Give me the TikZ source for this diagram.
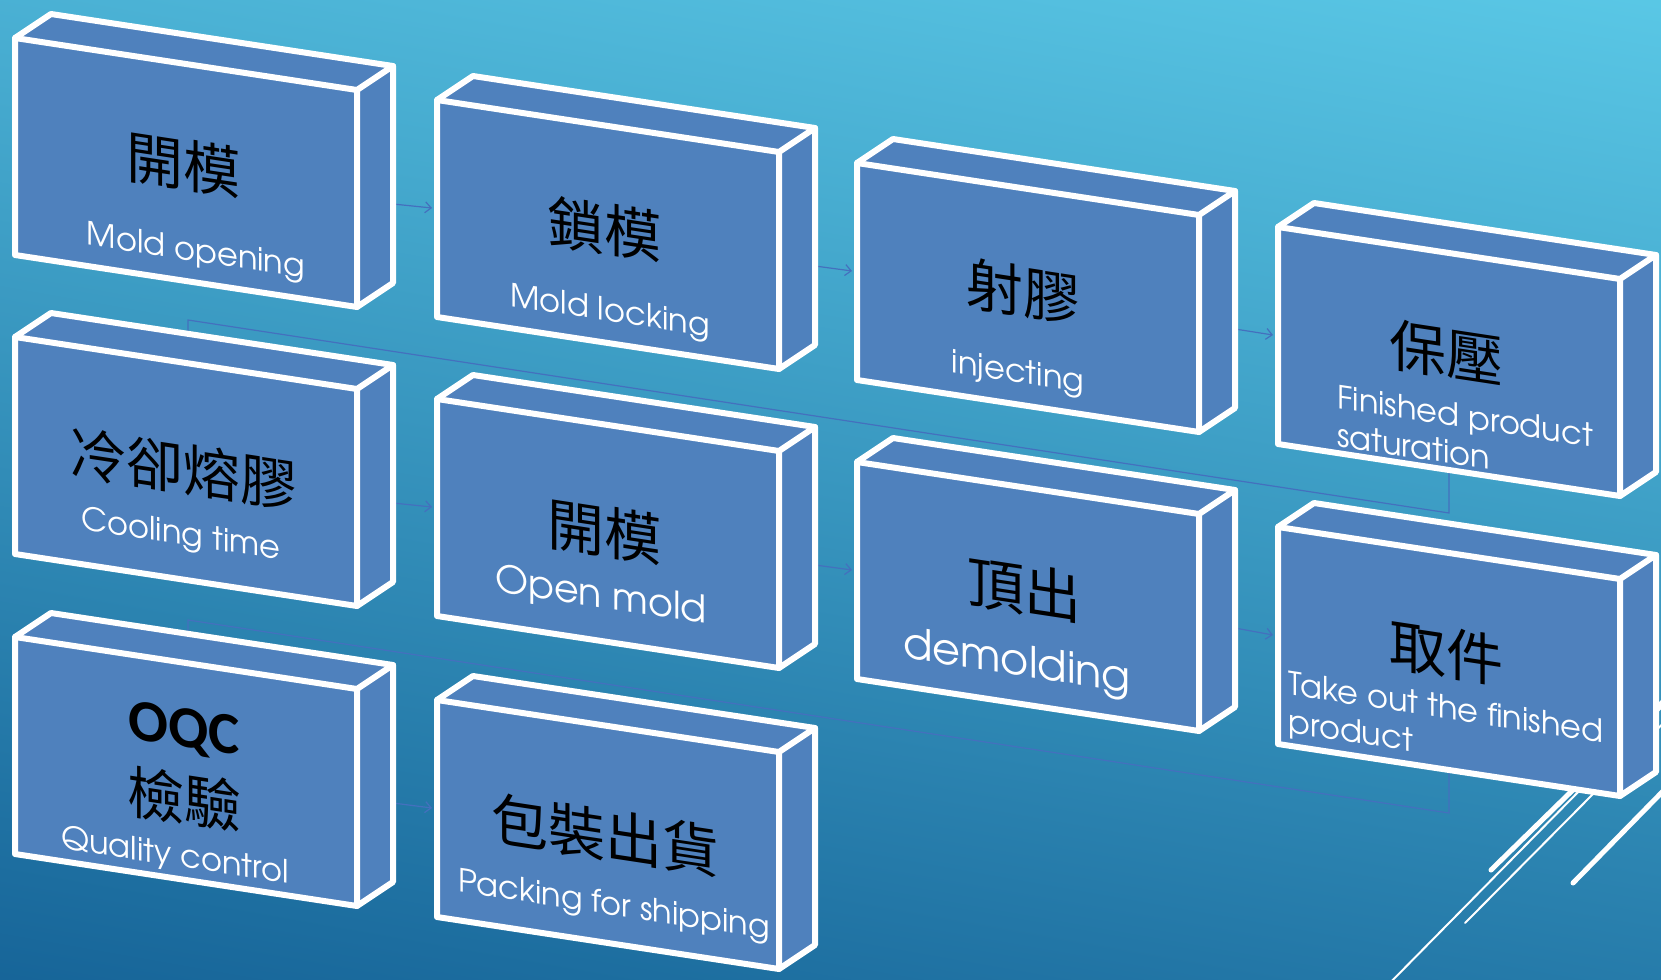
\documentclass[tikz,border=0pt]{standalone}
\usepackage{fontspec}
\newfontfamily\cjk{Noto Sans CJK TC}
\newfontfamily\eng{texgyreadventor-regular.otf}
\newfontfamily\oqcfont{Carlito}
\usetikzlibrary{arrows.meta}
\definecolor{boxblue}{RGB}{79,129,189}
\definecolor{bgtop}{RGB}{90,200,230}
\definecolor{bgbot}{RGB}{22,100,152}
\definecolor{conncol}{RGB}{68,112,190}

\newcommand\defbox[3]{%
  \coordinate (#1-ftl) at (#2,#3);
  \coordinate (#1-ftr) at (#2+342,#3+52);
  \coordinate (#1-fbr) at (#2+342,#3+269);
  \coordinate (#1-fbl) at (#2,#3+217);
  \coordinate (#1-btl) at (#2+36,#3-24);
  \coordinate (#1-btr) at (#2+378,#3+28);
  \coordinate (#1-bbr) at (#2+378,#3+245);
  \coordinate (#1-in)  at (#2-5,#3+108);
  \coordinate (#1-out) at (#2+378,#3+166);
  \coordinate (#1-bot) at (#2+171,#3+246);
  \coordinate (#1-top) at (#2+173,#3-3);
}
\newcommand\drawbox[1]{%
  \fill[boxblue] (#1-ftl) -- (#1-btl) -- (#1-btr) -- (#1-bbr) -- (#1-fbr) -- (#1-fbl) -- cycle;
  \draw[boxedge] (#1-ftl) -- (#1-btl) -- (#1-btr) -- (#1-bbr) -- (#1-fbr) -- (#1-fbl) -- cycle;
  \draw[boxedge] (#1-ftl) -- (#1-ftr) -- (#1-fbr) (#1-ftr) -- (#1-btr);
}

\begin{document}
\begin{tikzpicture}[x=0.5pt,y=-0.5pt,
  boxedge/.style={draw=white,line width=3pt,line join=round,line cap=round},
  conn/.style={draw=conncol,line width=0.6pt},
  arr/.style={conn,-{Straight Barb[length=3pt,width=5.5pt]}},
  deco/.style={draw=white,line cap=round},
  cn/.style={font=\cjk\fontsize{28.5}{32}\selectfont,text=black,inner sep=0pt,yslant=-0.152},
  en/.style={font=\eng\fontsize{16}{19}\selectfont,text=white,inner sep=0pt,yslant=-0.152},
  enbig/.style={en,font=\eng\fontsize{19}{22}\selectfont},
  enhuge/.style={en,font=\eng\fontsize{21.5}{24}\selectfont},
  oqcst/.style={font=\oqcfont\bfseries\fontsize{29.5}{32}\selectfont,text=black,inner sep=0pt,yslant=-0.152}
]
\useasboundingbox (0,0) rectangle (1661,980);
\clip (0,0) rectangle (1661,980);
\shade[top color=bgtop,bottom color=bgbot,shading angle=-10] (-100,-100) rectangle (1761,1080);

% decorative theme lines
\draw[deco,line width=2.5pt] (1491,870) -- (1720,646);
\draw[deco,line width=2.5pt] (1573,883) -- (1720,733);
\draw[deco,line width=1pt] (1465,923) -- (1720,666);
\draw[deco,line width=1pt] (1380,993) -- (1720,648);

% box geometry
\defbox{b1}{15}{38}
\defbox{b2}{437}{100}
\defbox{b3}{857}{163}
\defbox{b4}{1278}{227}
\defbox{b5}{15}{337}
\defbox{b6}{437}{399}
\defbox{b7}{857}{462}
\defbox{b8}{1278}{527}
\defbox{b9}{15}{637}
\defbox{b10}{437}{700}

% connectors
\draw[arr] (b1-out) -- (b2-in);
\draw[arr] (b2-out) -- (b3-in);
\draw[arr] (b3-out) -- (b4-in);
\draw[conn] (b4-bot) -- ++(0,40) -- ([yshift=7pt]b5-top) -- (b5-top);
\draw[arr] (b5-out) -- (b6-in);
\draw[arr] (b6-out) -- (b7-in);
\draw[arr] (b7-out) -- (b8-in);
\draw[conn] (b8-bot) -- ++(0,40) -- ([yshift=7pt]b9-top) -- (b9-top);
\draw[arr] (b9-out) -- (b10-in);

% boxes
\drawbox{b1}
\drawbox{b2}
\drawbox{b3}
\drawbox{b4}
\drawbox{b5}
\drawbox{b6}
\drawbox{b7}
\drawbox{b8}
\drawbox{b9}
\drawbox{b10}

% texts
\node[cn] (t1) at (183,165) {開模};
\node[en] (e1) at (196,253) {Mold opening};
\node[cn] (t2) at (604,229) {鎖模};
\node[en] (e2) at (610,313) {Mold locking};
\node[cn] (t3) at (1023,292) {射膠};
\node[en] (e3) at (1018,374) {injecting};
\node[cn] (t4) at (1446,353) {保壓};
\node[en,align=left] (e4) at (1465,435) {Finished product\\saturation};
\node[cn] (t5) at (183,469) {冷卻熔膠};
\node[en] (e5) at (181,536) {Cooling time};
\node[cn] (t6) at (604,532) {開模};
\node[enbig] (e6) at (601,597) {Open mold};
\node[cn] (t7) at (1024,590) {頂出};
\node[enhuge] (e7) at (1017,664) {demolding};
\node[cn] (t8) at (1446,653) {取件};
\node[en,align=left] (e8) at (1446,729) {Take out the finished\\product};
\node[oqcst] (t9a) at (184,731) {OQC};
\node[cn] (t9) at (184,799) {檢驗};
\node[en] (e9) at (175,857) {Quality control};
\node[cn] (t10) at (605,835) {包裝出貨};
\node[en] (e10) at (614,907) {Packing for shipping};
\end{tikzpicture}
\end{document}
